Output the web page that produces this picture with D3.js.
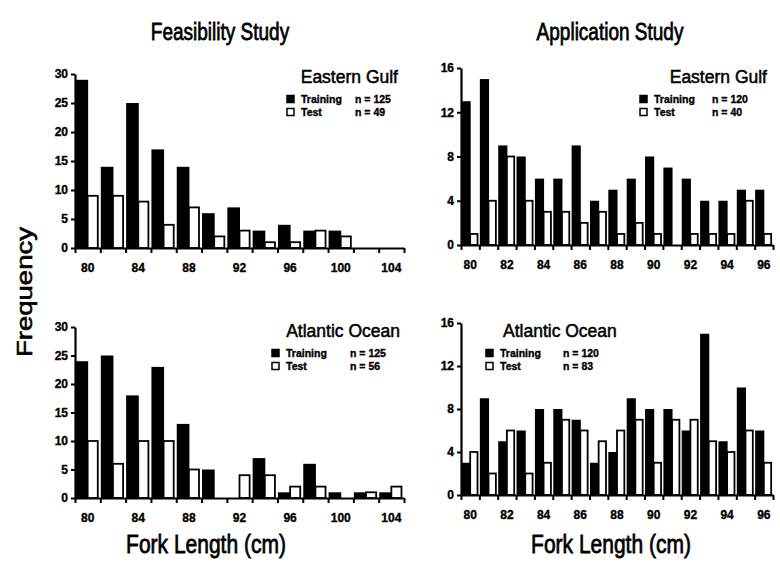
<!DOCTYPE html>
<html>
<head>
<meta charset="utf-8">
<script src="https://cdn.jsdelivr.net/npm/d3@7"></script>
<style>
  body { margin: 0; background: #fff; }
  text { font-family: "Liberation Sans", Arial, sans-serif; fill: #000; stroke: #000; stroke-width: 0.35px; }
</style>
</head>
<body>
<svg id="chart" width="780" height="565"></svg>
<script>
// fork length bins (cm)
const feasBins = [80, 82, 84, 86, 88, 90, 92, 94, 96, 98, 100, 102, 104];
const appBins = [80, 81, 82, 83, 84, 85, 86, 87, 88, 89, 90, 91, 92, 93, 94, 95, 96];

// frequencies
const feasGulfTraining = [29, 14, 25, 17, 14, 6, 7, 3, 4, 3, 3, 0, 0];
const feasGulfTest = [9, 9, 8, 4, 7, 2, 3, 1, 1, 3, 2, 0, 0];
const feasAtlTraining = [24, 25, 18, 23, 13, 5, 0, 7, 1, 6, 1, 1, 1];
const feasAtlTest = [10, 6, 10, 10, 5, 0, 4, 4, 2, 2, 0, 1, 2];
const appGulfTraining = [13, 15, 9, 8, 6, 6, 9, 4, 5, 6, 8, 7, 6, 4, 4, 5, 5];
const appGulfTest = [1, 4, 8, 4, 3, 3, 2, 3, 1, 2, 1, 0, 1, 1, 1, 4, 1];
const appAtlTraining = [3, 9, 5, 6, 8, 8, 7, 3, 4, 9, 8, 8, 6, 15, 5, 10, 6];
const appAtlTest = [4, 2, 6, 2, 3, 7, 6, 5, 6, 7, 3, 7, 7, 5, 4, 6, 3];

// axis ticks and labels
const feasYTicks = [0, 5, 10, 15, 20, 25, 30];
const appYTicks = [0, 4, 8, 12, 16];
const feasXLabels = [80, 84, 88, 92, 96, 100, 104];
const appXLabels = [80, 82, 84, 86, 88, 90, 92, 94, 96];

const studies = ["Feasibility Study", "Application Study"];
const regions = ["Eastern Gulf", "Atlantic Ocean"];
const seriesNames = ["Training", "Test"];
const sampleSizes = [[125, 49], [120, 40], [125, 56], [120, 83]];

const svg = d3.select("#chart");

// text that looks a bit taller than wide, like the scanned figure
function bigText(x, y, str, size, anchor, rotate) {
  svg.append("text")
    .attr("transform", `translate(${x},${y})` + (rotate ? " rotate(-90) scale(1.25,1)" : " scale(1,1.25)"))
    .attr("text-anchor", anchor)
    .style("font-size", size + "px")
    .style("stroke-width", "0.6px")
    .text(str);
}

function panel(cfg) {
  const g = svg.append("g");
  const x = d3.scaleBand().domain(cfg.bins).range([cfg.x0, cfg.x1]);
  const y = d3.scaleLinear().domain([0, d3.max(cfg.yTicks)]).range([cfg.y0, cfg.yTop]);
  const bw = x.bandwidth();

  const rows = cfg.bins.map((b, i) => ({ bin: b, train: cfg.train[i], test: cfg.test[i] }));

  g.selectAll("rect.train")
    .data(rows.filter(d => d.train > 0))
    .enter().append("rect")
    .attr("class", "train")
    .attr("x", d => x(d.bin) + 0.5)
    .attr("width", bw * 0.5)
    .attr("y", d => y(d.train))
    .attr("height", d => y(0) - y(d.train))
    .attr("fill", "#000");

  g.selectAll("rect.test")
    .data(rows.filter(d => d.test > 0))
    .enter().append("rect")
    .attr("class", "test")
    .attr("x", d => x(d.bin) + bw * 0.5)
    .attr("width", bw * 0.4)
    .attr("y", d => y(d.test))
    .attr("height", d => y(0) - y(d.test))
    .attr("fill", "#fff")
    .attr("stroke", "#000")
    .attr("stroke-width", 1.8);

  // y axis
  const yAxis = g.append("g")
    .attr("transform", `translate(${cfg.x0},0)`)
    .call(d3.axisLeft(y).tickValues(cfg.yTicks).tickSize(4).tickSizeOuter(0).tickPadding(3));
  yAxis.select(".domain").attr("stroke-width", 2.2);
  yAxis.selectAll(".tick line").attr("stroke-width", 2);
  yAxis.selectAll("text").style("font-size", "12px").style("font-weight", "bold").style("font-family", "\"Liberation Sans Narrow\", \"Liberation Sans\", sans-serif");

  // x axis: ticks at bin edges
  const edge = d3.scaleLinear().domain([0, cfg.bins.length]).range([cfg.x0, cfg.x1]);
  const xTicks = g.append("g")
    .attr("transform", `translate(0,${cfg.y0})`)
    .call(d3.axisBottom(edge).tickValues(d3.range(cfg.bins.length + 1)).tickSize(5).tickSizeOuter(0).tickFormat(""));
  xTicks.select(".domain").attr("stroke-width", 2.2);
  xTicks.selectAll(".tick line").attr("stroke-width", 2);

  const xLab = g.append("g")
    .attr("transform", `translate(0,${cfg.y0})`)
    .call(d3.axisBottom(x).tickValues(cfg.xLabels).tickSize(0).tickPadding(15));
  xLab.select(".domain").remove();
  xLab.selectAll("text").style("font-size", "12px").style("font-weight", "bold").style("font-family", "\"Liberation Sans Narrow\", \"Liberation Sans\", sans-serif");

  // region title and legend
  g.append("text")
    .attr("x", cfg.tx).attr("y", cfg.ty)
    .attr("text-anchor", cfg.tAnchor)
    .style("font-size", "17.5px")
    .style("stroke-width", "0.5px")
    .text(cfg.title);

  seriesNames.forEach((name, i) => {
    const ly = cfg.ly + i * 13;
    g.append("rect")
      .attr("x", cfg.lx).attr("y", ly - 7.5)
      .attr("width", 7).attr("height", 7)
      .attr("fill", i === 0 ? "#000" : "#fff")
      .attr("stroke", "#000").attr("stroke-width", 1.5);
    g.append("text")
      .attr("x", cfg.lx + 14).attr("y", ly)
      .style("font-size", "10.5px").style("font-weight", "bold")
      .text(name);
    g.append("text")
      .attr("x", cfg.nx).attr("y", ly)
      .style("font-size", "10.5px").style("font-weight", "bold")
      .text("n = " + cfg.n[i]);
  });
}

panel({ bins: feasBins, train: feasGulfTraining, test: feasGulfTest, yTicks: feasYTicks, xLabels: feasXLabels,
  x0: 75, x1: 404, y0: 248, yTop: 74, title: regions[0], tx: 398, ty: 83, tAnchor: "end",
  lx: 287, nx: 355, ly: 103, n: sampleSizes[0] });
panel({ bins: appBins, train: appGulfTraining, test: appGulfTest, yTicks: appYTicks, xLabels: appXLabels,
  x0: 461, x1: 773, y0: 245, yTop: 68, title: regions[0], tx: 767, ty: 83, tAnchor: "end",
  lx: 640, nx: 712, ly: 103, n: sampleSizes[1] });
panel({ bins: feasBins, train: feasAtlTraining, test: feasAtlTest, yTicks: feasYTicks, xLabels: feasXLabels,
  x0: 75, x1: 404, y0: 498, yTop: 327, title: regions[1], tx: 400, ty: 337, tAnchor: "end",
  lx: 272, nx: 350, ly: 357, n: sampleSizes[2] });
panel({ bins: appBins, train: appAtlTraining, test: appAtlTest, yTicks: appYTicks, xLabels: appXLabels,
  x0: 461, x1: 773, y0: 495, yTop: 323, title: regions[1], tx: 503, ty: 337, tAnchor: "start",
  lx: 486, nx: 563, ly: 357, n: sampleSizes[3] });

bigText(220, 40, studies[0], 19, "middle");
bigText(610, 40, studies[1], 19, "middle");
bigText(206, 553, "Fork Length (cm)", 21, "middle");
bigText(611, 553, "Fork Length (cm)", 21, "middle");
bigText(32, 292, "Frequency", 22, "middle", true);
</script>
</body>
</html>
